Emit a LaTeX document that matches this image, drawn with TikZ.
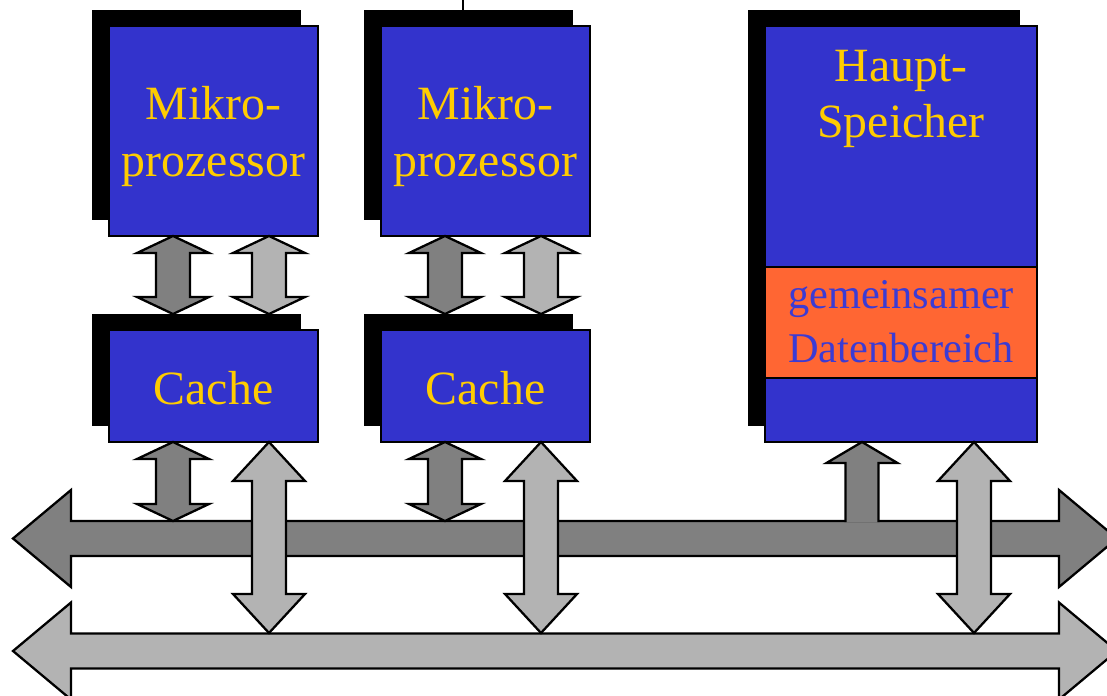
\documentclass[tikz,border=0pt]{standalone}
\usepackage{fontspec}
\setmainfont{Liberation Serif}
\usetikzlibrary{calc}

\definecolor{unitblue}{HTML}{3333CC}
\definecolor{unittext}{HTML}{FFCC00}
\definecolor{shared}{HTML}{FF6633}
\definecolor{sharedtext}{HTML}{3B3BD4}
\definecolor{busdark}{HTML}{808080}
\definecolor{buslight}{HTML}{B3B3B3}

\tikzset{
  unit/.style={draw=black, fill=unitblue, line width=1pt, inner sep=0pt, outer sep=0pt},
  shadowbox/.style={fill=black},
  label/.style={text=unittext, align=center, inner sep=0pt,
    font=\fontsize{27.2}{31.9}\selectfont},
  darkbus/.style={draw=black, fill=busdark, line width=1.3pt, line join=miter},
  lightbus/.style={draw=black, fill=buslight, line width=1.3pt, line join=miter},
}

% vertical block arrow with two heads: style, top end, bottom end, head length
\newcommand{\vdouble}[4]{%
\filldraw[#1] (#2) -- ($(#2)+(36,#4)$) -- ($(#2)+(17,#4)$)
  -- ($(#3)+(17,-#4)$) -- ($(#3)+(36,-#4)$) -- (#3)
  -- ($(#3)+(-36,-#4)$) -- ($(#3)+(-17,-#4)$)
  -- ($(#2)+(-17,#4)$) -- ($(#2)+(-36,#4)$) -- cycle;
}
% horizontal bus arrow: style, left end, right end
\newcommand{\hbus}[3]{%
\filldraw[#1] (#2) -- ($(#2)+(58,-48.5)$) -- ($(#2)+(58,-17.5)$)
  -- ($(#3)+(-58,-17.5)$) -- ($(#3)+(-58,-48.5)$) -- (#3)
  -- ($(#3)+(-58,48.5)$) -- ($(#3)+(-58,17.5)$)
  -- ($(#2)+(58,17.5)$) -- ($(#2)+(58,48.5)$) -- cycle;
}

\begin{document}
\begin{tikzpicture}[x=0.02cm, y=-0.02cm]
\useasboundingbox (0,0) rectangle (1107,696);
\clip (0,0) rectangle (1107,696);

%-------------- CPU 1 -------------------
\node [unit, minimum width=4.18cm, minimum height=4.2cm] (P1) at (213.5,131) {};
\fill [shadowbox] ($(P1.north west)+(-17,-16)$) rectangle ($(P1.south east)+(-17,-16)$);
\node [unit, minimum width=4.18cm, minimum height=4.2cm] at (P1) {};
\node [label] (P1t) at (213.5,136.5) {Mikro-\\prozessor};

%-------------- CPU 2 -------------------
\coordinate (lead) at (463,-5);
\draw [line width=1.1pt] (lead) -- (463,12);
\node [unit, minimum width=4.18cm, minimum height=4.2cm] (P2) at (485.5,131) {};
\fill [shadowbox] ($(P2.north west)+(-17,-16)$) rectangle ($(P2.south east)+(-17,-16)$);
\node [unit, minimum width=4.18cm, minimum height=4.2cm] at (P2) {};
\node [label] (P2t) at (485.5,136.5) {Mikro-\\prozessor};

%-------------- Caches -------------------
\node [unit, minimum width=4.18cm, minimum height=2.24cm] (C1) at (213.5,386) {};
\fill [shadowbox] ($(C1.north west)+(-17,-16)$) rectangle ($(C1.south east)+(-17,-16)$);
\node [unit, minimum width=4.18cm, minimum height=2.24cm] at (C1) {};
\node [label] (C1t) at (213.5,388) {Cache};

\node [unit, minimum width=4.18cm, minimum height=2.24cm] (C2) at (485.5,386) {};
\fill [shadowbox] ($(C2.north west)+(-17,-16)$) rectangle ($(C2.south east)+(-17,-16)$);
\node [unit, minimum width=4.18cm, minimum height=2.24cm] at (C2) {};
\node [label] (C2t) at (485.5,388) {Cache};

%-------------- Hauptspeicher -------------------
\node [unit, minimum width=5.44cm, minimum height=8.32cm] (HS) at (901,234) {};
\fill [shadowbox] ($(HS.north west)+(-17,-16)$) rectangle ($(HS.south east)+(-17,-16)$);
\node [unit, minimum width=5.44cm, minimum height=8.32cm] at (HS) {};
\node [unit, fill=shared, minimum width=5.44cm, minimum height=2.22cm] (DB) at (901,322.5) {};
\node [label] (HSt) at (901,98.5) {Haupt-\\Speicher};
\node [label, text=sharedtext, font=\fontsize{24.1}{30.6}\selectfont] (DBt) at (901,322) {gemeinsamer\\Datenbereich};

%-------------- arrow ends -------------------
\coordinate (a1) at (173,236);  \coordinate (a2) at (173,314);
\coordinate (b1) at (269,236);  \coordinate (b2) at (269,314);
\coordinate (a3) at (445,236);  \coordinate (a4) at (445,314);
\coordinate (b3) at (541,236);  \coordinate (b4) at (541,314);

\coordinate (d1) at (173,442);  \coordinate (d2) at (173,521);
\coordinate (d3) at (445,442);  \coordinate (d4) at (445,521);
\coordinate (l1) at (269,442);  \coordinate (l2) at (269,633);
\coordinate (l3) at (541,442);  \coordinate (l4) at (541,633);
\coordinate (m1) at (862,442);  \coordinate (m2) at (862,522);
\coordinate (n1) at (974,442);  \coordinate (n2) at (974,633);

\coordinate (B1l) at (13,538.5);  \coordinate (B1r) at (1117,538.5);
\coordinate (B2l) at (13,651);    \coordinate (B2r) at (1117,651);

%-------------- CPU <-> Cache -------------------
\vdouble{darkbus}{a1}{a2}{17}
\vdouble{lightbus}{b1}{b2}{17}
\vdouble{darkbus}{a3}{a4}{17}
\vdouble{lightbus}{b3}{b4}{17}

%-------------- busses -------------------
\hbus{darkbus}{B1l}{B1r}
\hbus{lightbus}{B2l}{B2r}

\vdouble{darkbus}{d1}{d2}{17}
\vdouble{darkbus}{d3}{d4}{17}

% memory feeds the upper bus, open at the bottom
\fill [busdark] ($(m2)+(-16.5,0)$) -- ($(m1)+(-16.5,21)$) -- ($(m1)+(-35.5,21)$) -- (m1)
  -- ($(m1)+(35.5,21)$) -- ($(m1)+(16.5,21)$) -- ($(m2)+(16.5,0)$) -- cycle;
\draw [line width=1.3pt, line join=miter] ($(m2)+(-16.5,0)$) -- ($(m1)+(-16.5,21)$) -- ($(m1)+(-35.5,21)$) -- (m1)
  -- ($(m1)+(35.5,21)$) -- ($(m1)+(16.5,21)$) -- ($(m2)+(16.5,0)$);

\vdouble{lightbus}{l1}{l2}{39}
\vdouble{lightbus}{l3}{l4}{39}
\vdouble{lightbus}{n1}{n2}{39}

\end{tikzpicture}
\end{document}
